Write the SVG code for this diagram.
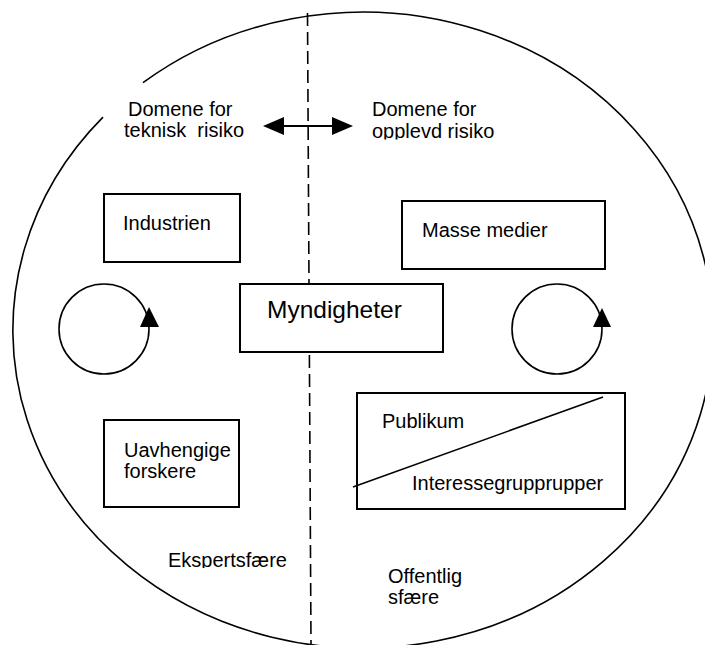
<svg xmlns="http://www.w3.org/2000/svg" width="705" height="645" viewBox="0 0 705 645">
<style>
.t{font-family:"Liberation Sans",Arial,sans-serif;font-size:20px;fill:#000}
.box{fill:#fff;stroke:#000;stroke-width:2}
.ln{fill:none;stroke:#000;stroke-width:1.6}
.ah{fill:#000;stroke:none}
</style>
<defs>
<clipPath id="clipTop"><rect x="360" y="90" width="200" height="49.5"/></clipPath>
<clipPath id="clipEks"><rect x="150" y="540" width="160" height="28"/></clipPath>
</defs>
<rect width="705" height="645" fill="#fff"/>
<g id="connectors">
<path class="ln" d="M143 82.7 A350 318 0 1 1 103 117.1"/>
<line x1="307.5" y1="13" x2="311" y2="645" stroke="#000" stroke-width="1.6" stroke-dasharray="13 6"/>
<line x1="278" y1="126" x2="338" y2="126" stroke="#000" stroke-width="2"/>
<polygon class="ah" points="263,126 284,117 284,135"/>
<polygon class="ah" points="353,126 332,117 332,135"/>
</g>
<g id="labels-top">
<text class="t" x="128" y="116">Domene for</text>
<text class="t" x="124" y="137" xml:space="preserve">teknisk  risiko</text>
<text class="t" x="372" y="116">Domene for</text>
<text class="t" x="372" y="138" clip-path="url(#clipTop)">opplevd risiko</text>
</g>
<g id="industrien">
<rect class="box" x="104" y="194" width="136" height="68"/>
<text class="t" x="123" y="230">Industrien</text>
</g>
<g id="masse-medier">
<rect class="box" x="402" y="201" width="203" height="68"/>
<text class="t" x="422" y="237">Masse medier</text>
</g>
<g id="myndigheter">
<rect class="box" x="240" y="284" width="203" height="68"/>
<text class="t" x="267" y="318" style="font-size:24.5px">Myndigheter</text>
</g>
<g id="cycle-left">
<circle class="ln" cx="104" cy="329" r="45"/>
<polygon class="ah" points="149,307 140,327 159,327"/>
</g>
<g id="cycle-right">
<circle class="ln" cx="557" cy="329" r="45"/>
<polygon class="ah" points="602,308 593,327 611,327"/>
</g>
<g id="uavhengige">
<rect class="box" x="104" y="420" width="135" height="87"/>
<text class="t" x="124" y="457">Uavhengige</text>
<text class="t" x="124" y="478">forskere</text>
</g>
<g id="publikum">
<rect class="box" x="357" y="393" width="268" height="116"/>
<line x1="353" y1="487" x2="603" y2="397" stroke="#000" stroke-width="1.6"/>
<text class="t" x="382" y="428">Publikum</text>
<text class="t" x="412" y="490">Interessegrupprupper</text>
</g>
<g id="spheres">
<text class="t" x="168" y="567" clip-path="url(#clipEks)">Ekspertsfære</text>
<text class="t" x="388" y="583">Offentlig</text>
<text class="t" x="388" y="604">sfære</text>
</g>
</svg>
